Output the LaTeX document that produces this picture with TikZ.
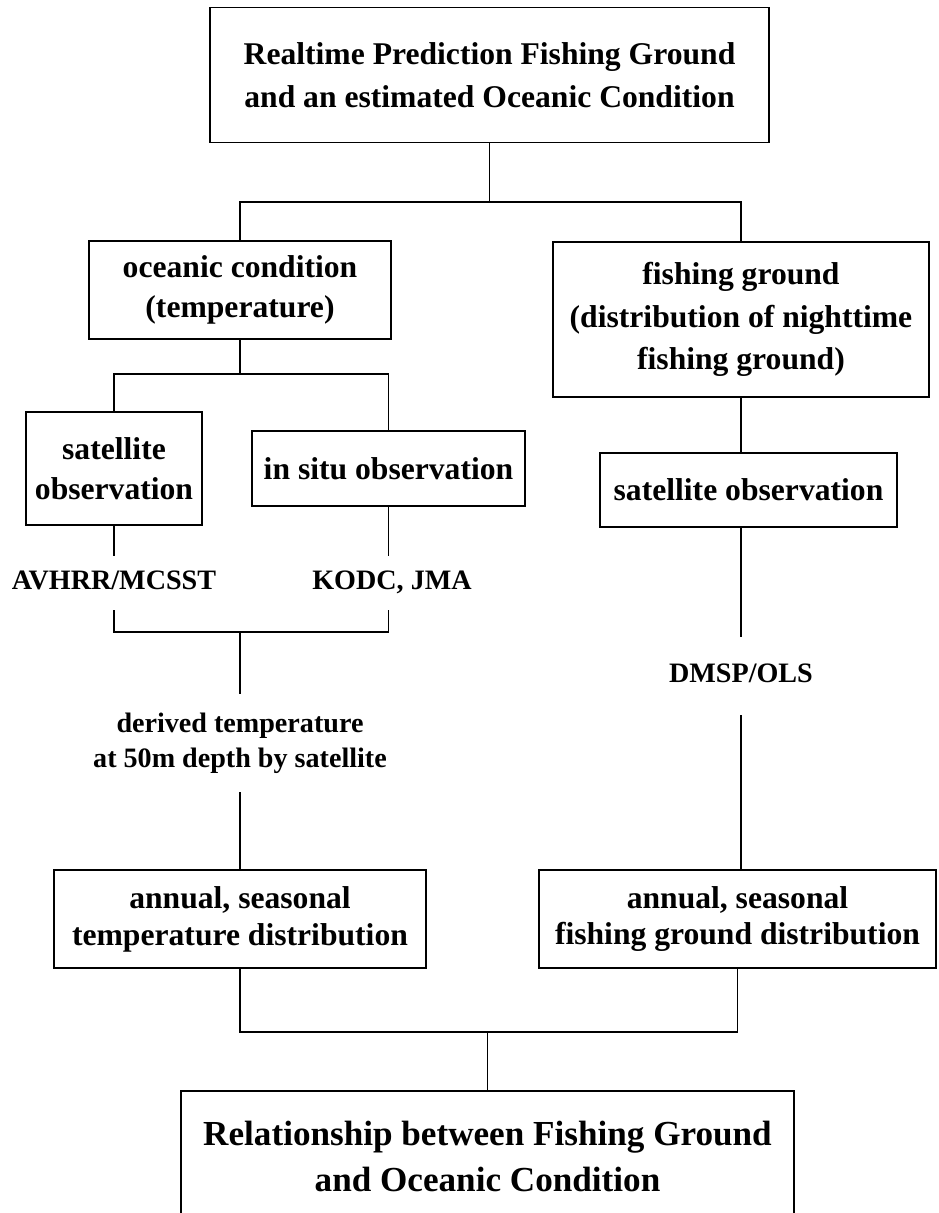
\documentclass[tikz,border=0pt]{standalone}
\usepackage{fontspec}
\setmainfont{Liberation Serif}

\begin{document}
\begin{tikzpicture}[x=0.02cm, y=-0.02cm,
    every node/.style={font=\bfseries},
    kasten/.style={draw, line width=0.9pt, align=center, inner sep=2pt, font=\bfseries\fontsize{18pt}{23pt}\selectfont},
    marke/.style={align=center, inner xsep=2pt, font=\bfseries\fontsize{16pt}{20pt}\selectfont},
    einzeilig/.style={marke, text height=11pt, text depth=3.5pt},
    linie/.style={line width=0.6pt}]
    \useasboundingbox (0,0) rectangle (938,1213);
    % Kaesten
    \node[kasten, minimum width=11.18cm, minimum height=2.7cm, font=\bfseries\fontsize{18pt}{24.5pt}\selectfont] (top) at (489.5,75) {Realtime Prediction Fishing Ground\\and an estimated Oceanic Condition};
    \node[kasten, minimum width=6.04cm, minimum height=1.96cm] (ocean) at (240,290) {oceanic condition\\(temperature)};
    \node[kasten, minimum width=7.52cm, minimum height=3.1cm, font=\bfseries\fontsize{18pt}{24pt}\selectfont] (fishing) at (741,319.5) {fishing ground\\(distribution of nighttime\\fishing ground)};
    \node[kasten, minimum width=3.52cm, minimum height=2.26cm] (satl) at (114,468.5) {satellite\\observation};
    \node[kasten, minimum width=5.46cm, minimum height=1.5cm] (insitu) at (388.5,468.5) {in situ observation};
    \node[kasten, minimum width=5.94cm, minimum height=1.48cm] (satr) at (748.5,490) {satellite observation};
    \node[kasten, minimum width=7.44cm, minimum height=1.96cm, font=\bfseries\fontsize{18pt}{21pt}\selectfont] (anntemp) at (240,919) {annual, seasonal\\temperature distribution};
    \node[kasten, minimum width=7.94cm, minimum height=1.96cm, font=\bfseries\fontsize{18pt}{21pt}\selectfont] (annfish) at (737.5,919) {annual, seasonal\\fishing ground distribution};
    \node[kasten, minimum width=12.26cm, minimum height=2.62cm, font=\bfseries\fontsize{20pt}{26.5pt}\selectfont] (relation) at (487.5,1156.5) {Relationship between Fishing Ground\\and Oceanic Condition};
    % Beschriftungen
    \node[einzeilig, inner ysep=8pt] (avhrr) at (114,583) {AVHRR/MCSST};
    \node[einzeilig, inner ysep=8pt] (kodc) at (392,583) {KODC, JMA};
    \node[marke, inner ysep=10.5pt] (derived) at (240,743) {derived temperature\\at 50m depth by satellite};
    \node[einzeilig, inner ysep=15pt] (dmsp) at (741,676) {DMSP/OLS};
    % Verbindungen
    \coordinate (oben) at (489.5,202);
    \coordinate (links) at (240,374);
    \coordinate (mitte) at (240,632);
    \coordinate (unten) at (487.5,1032);
    \draw[linie] (top.south) -- (oben);
    \draw[linie] (ocean.north) |- (oben) -| (fishing.north);
    \draw[linie] (ocean.south) -- (links);
    \draw[linie] (satl.north) |- (links) -| (insitu.north);
    \draw[linie] (satl.south) -- (avhrr.north);
    \draw[linie] (insitu.south) -- (insitu.south |- kodc.north);
    \draw[linie] (avhrr.south) |- (mitte) -| (insitu.south |- kodc.south);
    \draw[linie] (mitte) -- (derived.north);
    \draw[linie] (derived.south) -- (anntemp.north);
    \draw[linie] (fishing.south) -- (fishing.south |- satr.north);
    \draw[linie] (satr.south -| fishing.south) -- (dmsp.north);
    \draw[linie] (dmsp.south) -- (dmsp.south |- annfish.north);
    \draw[linie] (anntemp.south) |- (unten) -| (annfish.south);
    \draw[linie] (unten) -- (relation.north);
\end{tikzpicture}
\end{document}
